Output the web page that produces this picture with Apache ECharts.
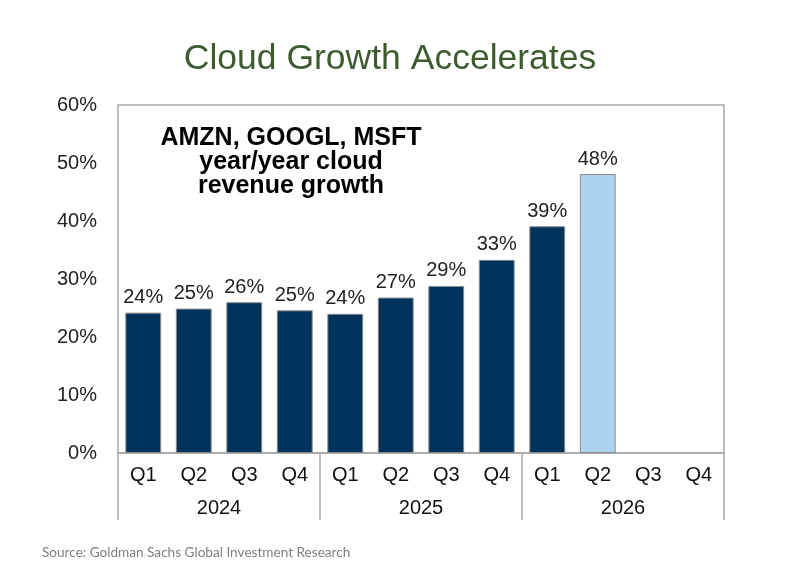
<!DOCTYPE html>
<html><head><meta charset="utf-8">
<script src="https://cdn.jsdelivr.net/npm/echarts@6/dist/echarts.min.js"></script>
<style>html,body{margin:0;padding:0;background:#fff}#c{width:790px;height:576px}</style>
</head><body><div id="c"></div>
<script>
var quarters = ['Q1','Q2','Q3','Q4','Q1','Q2','Q3','Q4','Q1','Q2','Q3','Q4'];
var years = ['2024','2025','2026'];
var growth = [24.2, 24.9, 26.0, 24.6, 24.0, 26.8, 28.8, 33.3, 39.1, 48.1, null, null];
var estimateIndex = 9;
var yTicks = [0, 10, 20, 30, 40, 50, 60];

var FONT = 'Liberation Sans, Arial, sans-serif';
var chart = echarts.init(document.getElementById('c'), null, {renderer: 'canvas'});
var barData = growth.map(function (v, i) {
  if (v === null) return null;
  return {value: v, itemStyle: {color: i === estimateIndex ? '#abd3f0' : '#00335c'}};
});
chart.setOption({
  animation: false,
  backgroundColor: '#fff',
  title: {
    text: 'Cloud Growth Accelerates', left: 385, top: 36, textAlign: 'center',
    textStyle: {fontFamily: FONT, fontSize: 35.5, fontWeight: 'normal', color: '#3e5b30'}
  },
  grid: {left: 118, right: 66, top: 105, bottom: 123, show: true, borderColor: '#a6a6a6', borderWidth: 1.5, containLabel: false},
  xAxis: [{
    type: 'category', data: quarters, position: 'bottom',
    axisLine: {show: true, lineStyle: {color: '#a6a6a6', width: 1.5}},
    axisTick: {show: false},
    axisLabel: {color: '#111', fontFamily: FONT, fontSize: 20, margin: 12, interval: 0}
  }, {
    type: 'category', data: years, position: 'bottom', offset: 0,
    axisLine: {show: false},
    axisTick: {show: true, length: 67, lineStyle: {color: '#a6a6a6', width: 1.5}},
    axisLabel: {color: '#111', fontFamily: FONT, fontSize: 20, margin: 45}
  }],
  yAxis: {
    type: 'value', min: yTicks[0], max: yTicks[yTicks.length - 1], interval: 10,
    axisLine: {show: false}, axisTick: {show: false}, splitLine: {show: false},
    axisLabel: {formatter: '{value}%', color: '#222', fontFamily: FONT, fontSize: 20, margin: 21}
  },
  series: [{
    type: 'bar', data: barData, xAxisIndex: 0, barCategoryGap: '29%',
    itemStyle: {borderColor: '#8c8c8c', borderWidth: 1},
    label: {show: true, position: 'top', distance: 5, color: '#222', fontFamily: FONT, fontSize: 20,
      formatter: function (p) { return Math.round(p.value) + '%'; }}
  }],
  graphic: [{
    type: 'text', z: 10,
    style: {
      text: 'AMZN, GOOGL, MSFT\nyear/year cloud\nrevenue growth',
      x: 291, y: 126, textAlign: 'center', textVerticalAlign: 'top',
      font: 'bold 25px ' + FONT, fill: '#000', lineHeight: 24
    }
  }, {
    type: 'text',
    style: {
      text: 'Source: Goldman Sachs Global Investment Research',
      x: 42, y: 553, textVerticalAlign: 'middle',
      font: '13.6px Lato, sans-serif', fill: '#7f7f7f'
    }
  }]
});
</script></body></html>
